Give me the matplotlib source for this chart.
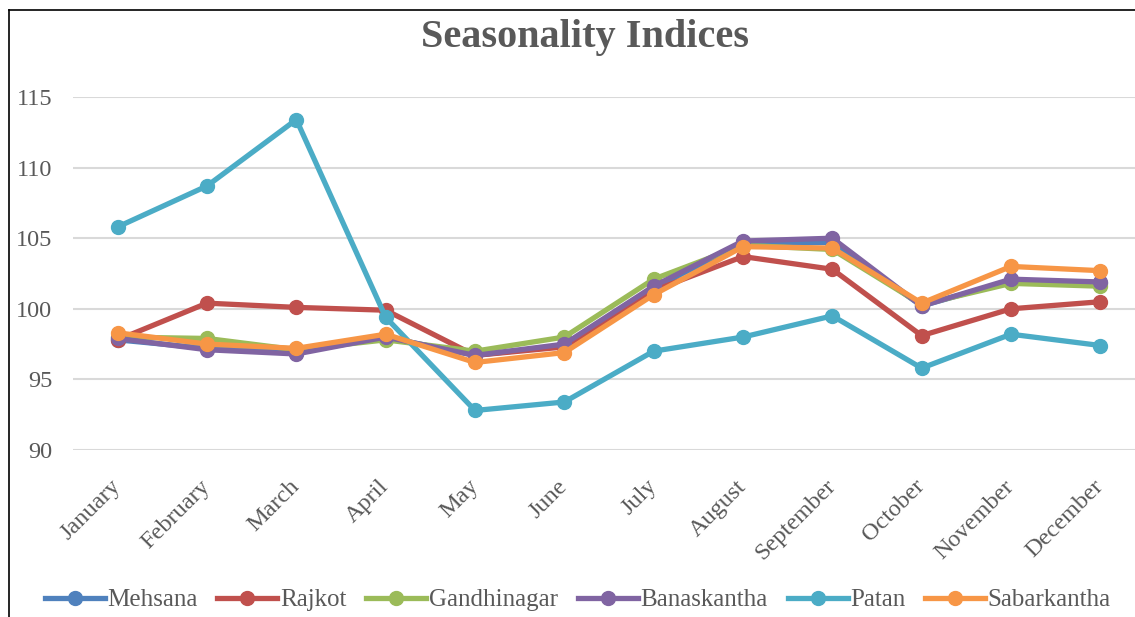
import matplotlib
matplotlib.use("Agg")
import matplotlib.pyplot as plt
from matplotlib.lines import Line2D

months = ["January", "February", "March", "April", "May", "June", "July",
          "August", "September", "October", "November", "December"]

# seasonality index per district
mehsana = [97.8, 97.2, 96.9, 98.0, 96.7, 97.4, 101.5, 104.6, 104.7, 100.2, 102.0, 101.8]
rajkot = [97.8, 100.4, 100.1, 99.9, 96.7, 97.3, 101.3, 103.7, 102.8, 98.1, 100.0, 100.5]
gandhinagar = [98.0, 97.9, 97.1, 97.8, 97.0, 98.0, 102.1, 104.5, 104.2, 100.3, 101.8, 101.6]
banaskantha = [97.9, 97.1, 96.8, 98.0, 96.7, 97.5, 101.6, 104.8, 105.0, 100.2, 102.1, 101.9]
patan = [105.8, 108.7, 113.4, 99.4, 92.8, 93.4, 97.0, 98.0, 99.5, 95.8, 98.2, 97.4]
sabarkantha = [98.3, 97.5, 97.2, 98.2, 96.2, 96.9, 101.0, 104.4, 104.3, 100.4, 103.0, 102.7]

names = ["Mehsana", "Rajkot", "Gandhinagar", "Banaskantha", "Patan", "Sabarkantha"]
series = [mehsana, rajkot, gandhinagar, banaskantha, patan, sabarkantha]
colors = ["#4F81BD", "#C0504D", "#9BBB59", "#8064A2", "#4BACC6", "#F79646"]

serif = "Liberation Serif"
grey = "#595959"

fig = plt.figure(figsize=(11.35, 6.17), dpi=100)
ax = fig.add_axes([73 / 1135, 1 - 450 / 617, 1072 / 1135, 353 / 617])

x = range(len(months))
for name, vals, c in zip(names, series, colors):
    ax.plot(x, vals, color=c, lw=3.8, marker="o", ms=10, label=name,
            solid_joinstyle="round", zorder=3)

ax.set_xlim(-0.5, 11.5)
ax.set_ylim(90, 115)
ax.set_yticks([90, 95, 100, 105, 110, 115])
ax.grid(axis="y", color="#D9D9D9", lw=1.5, zorder=0)
for s in ax.spines.values():
    s.set_visible(False)
ax.tick_params(length=0)
ax.tick_params(axis="y", pad=15)
ax.tick_params(axis="x", pad=24)
ax.set_xticks(list(x))
ax.set_xticklabels(months, rotation=45, ha="right", va="center",
                   rotation_mode="anchor")
for lab in ax.get_xticklabels():
    lab.set_fontfamily(serif)
    lab.set_fontsize(17.5)
    lab.set_color(grey)
for lab in ax.get_yticklabels():
    lab.set_fontfamily(serif)
    lab.set_fontsize(17.5)
    lab.set_color(grey)

fig.text(585 / 1135, 1 - 37 / 617, "Seasonality Indices", ha="center", va="center",
         fontsize=29, fontweight="bold", family=serif, color=grey)

leg = fig.legend(loc="center", bbox_to_anchor=(0.509, 1 - 600 / 617), ncol=6,
                 frameon=False, prop={"family": serif, "size": 18},
                 handlelength=2.4, handletextpad=0.1, columnspacing=0.8)
for t in leg.get_texts():
    t.set_color(grey)

# chart frame (only left and top edges are visible in the crop)
fig.add_artist(Line2D([9 / 1135, 9 / 1135], [0, 1 - 10 / 617], color="black", lw=1.2,
                      transform=fig.transFigure))
fig.add_artist(Line2D([9 / 1135, 1], [1 - 10 / 617, 1 - 10 / 617], color="black", lw=1.2,
                      transform=fig.transFigure))

fig.savefig("out.png", dpi=100)
